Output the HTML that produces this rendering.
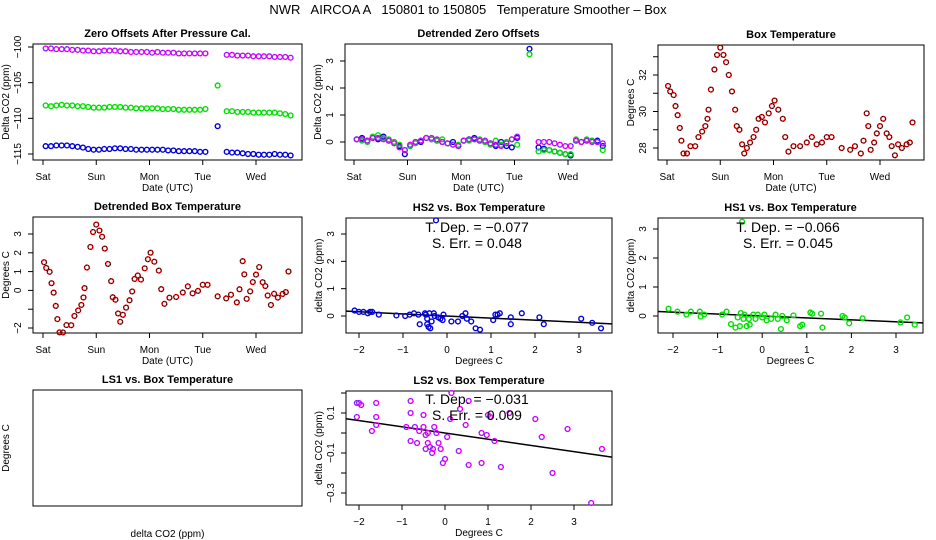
<!DOCTYPE html>
<html><head><meta charset="utf-8"><style>
body{margin:0;background:#fff;}
svg{display:block;font-family:"Liberation Sans",sans-serif;}
.ttl{font-weight:bold;font-size:11px;}
.tk{font-size:10px;}
</style></head><body>
<svg id="c" width="936" height="540" viewBox="0 0 936 540" xmlns="http://www.w3.org/2000/svg">
<rect width="936" height="540" fill="#fff"/>
<text x="468" y="14" font-size="13" text-anchor="middle" xml:space="preserve">NWR   AIRCOA A   150801 to 150805   Temperature Smoother – Box</text>
</svg>
<script>
// ---- data ----
const dayLabels = ["Sat","Sun","Mon","Tue","Wed"];
const tz = [0.05,0.15,0.25,0.35,0.45,0.55,0.65,0.75,0.85,0.95,1.05,1.15,1.25,1.35,1.45,1.55,1.65,1.75,1.85,1.95,2.05,2.15,2.25,2.35,2.45,2.55,2.65,2.75,2.85,2.95,3.05,3.28,3.45,3.55,3.65,3.75,3.85,3.95,4.05,4.15,4.25,4.35,4.45,4.55,4.65];
const rawLS2 = [-100.2,-100.2,-100.3,-100.3,-100.3,-100.4,-100.4,-100.5,-100.5,-100.6,-100.6,-100.5,-100.5,-100.5,-100.6,-100.6,-100.7,-100.7,-100.7,-100.7,-100.8,-100.7,-100.8,-100.8,-100.8,-100.9,-100.9,-100.9,-100.9,-100.9,-100.9,null,-101.1,-101.1,-101.2,-101.2,-101.2,-101.3,-101.3,-101.3,-101.3,-101.4,-101.4,-101.4,-101.5];
const rawHS1 = [-108.2,-108.3,-108.2,-108.1,-108.2,-108.2,-108.3,-108.3,-108.4,-108.5,-108.5,-108.5,-108.4,-108.4,-108.4,-108.5,-108.5,-108.6,-108.6,-108.6,-108.6,-108.6,-108.7,-108.7,-108.7,-108.8,-108.8,-108.8,-108.8,-108.8,-108.7,-105.4,-109.0,-109.0,-109.1,-109.1,-109.1,-109.2,-109.2,-109.2,-109.2,-109.2,-109.3,-109.4,-109.6];
const rawHS2 = [-113.9,-113.9,-113.8,-113.8,-113.8,-113.9,-114.0,-114.1,-114.3,-114.4,-114.4,-114.3,-114.3,-114.2,-114.2,-114.3,-114.3,-114.4,-114.4,-114.4,-114.4,-114.4,-114.4,-114.5,-114.5,-114.6,-114.6,-114.6,-114.6,-114.7,-114.7,-111.1,-114.7,-114.8,-114.8,-114.9,-115.0,-115.0,-115.1,-115.1,-115.1,-115.0,-115.1,-115.1,-115.2];
const detLS2 = [0.1,0.1,0.05,0.15,0.15,0.1,0.05,-0.05,-0.2,-0.3,-0.1,0.0,0.05,0.15,0.15,0.1,0.0,-0.05,-0.1,-0.15,0.05,0.1,0.1,0.05,0.05,-0.05,-0.1,-0.15,-0.05,0.1,0.2,null,0.0,0.0,0.0,-0.05,-0.1,-0.15,-0.15,0.05,0.0,0.05,0.0,0.0,-0.05];
const detHS1 = [0.1,0.05,0.0,0.2,0.25,0.15,0.1,0.0,-0.1,-0.3,-0.15,-0.05,0.05,0.15,0.1,0.05,0.1,-0.05,-0.1,-0.1,0.05,0.05,0.1,0.1,0.0,-0.1,0.05,-0.1,0.0,0.1,-0.1,3.25,-0.35,-0.3,-0.3,-0.35,-0.4,-0.45,-0.45,0.1,0.0,0.1,0.05,0.0,-0.3];
const detHS2 = [0.1,0.15,0.05,0.15,0.1,0.2,0.05,0.0,-0.15,-0.45,-0.15,0.0,0.0,0.15,0.1,0.05,0.0,-0.05,0.0,-0.15,0.05,0.1,0.15,0.05,0.0,-0.05,-0.15,0.0,-0.15,-0.2,0.15,3.45,-0.2,-0.25,-0.3,-0.35,-0.4,-0.45,-0.5,0.05,0.0,0.05,0.05,0.05,-0.15];
const tt = [0.02,0.06,0.125,0.16,0.2,0.24,0.27,0.31,0.375,0.44,0.53,0.59,0.66,0.72,0.76,0.78,0.825,0.89,0.94,1.0,1.06,1.11,1.16,1.22,1.28,1.31,1.36,1.41,1.45,1.5,1.56,1.625,1.675,1.72,1.78,1.84,1.91,1.97,2.02,2.09,2.175,2.22,2.28,2.375,2.5,2.625,2.72,2.81,2.91,3.0,3.09,3.28,3.44,3.53,3.64,3.69,3.75,3.78,3.825,3.89,3.94,4.0,4.06,4.125,4.175,4.22,4.28,4.34,4.41,4.5,4.56,4.61];
const boxT = [31.4,31.1,30.9,30.3,29.8,29.1,28.4,27.7,27.7,28.1,28.1,28.6,28.9,29.2,29.6,30.1,31.2,32.3,33.1,33.5,33.1,32.7,32.0,31.1,30.1,29.2,29.0,28.2,27.7,28.0,28.3,28.6,29.0,29.6,29.7,29.4,29.9,30.3,30.6,30.1,29.6,28.6,27.8,28.1,28.1,28.3,28.6,28.2,28.3,28.6,28.6,28.0,27.9,28.1,27.7,28.4,29.9,29.2,27.9,28.3,28.8,29.2,29.6,28.8,28.6,28.1,27.6,28.2,28.0,28.2,28.3,29.4];
const trendT = [0,1,2,3,4.7];
const trendV = [29.9,30.0,28.6,28.3,28.4];
const hs2X = [-2.1,-2.0,-1.9,-1.8,-1.75,-1.7,-1.55,-1.15,-0.95,-0.85,-0.75,-0.65,-0.62,-0.5,-0.48,-0.45,-0.45,-0.42,-0.4,-0.38,-0.35,-0.3,-0.28,-0.25,-0.2,-0.15,-0.1,-0.08,0.1,0.25,0.35,0.42,0.45,0.55,0.65,0.75,1.05,1.1,1.15,1.2,1.45,1.45,1.7,2.1,2.2,3.05,3.3,3.5];
const hs2Y = [0.2,0.15,0.15,0.1,0.15,0.15,0.05,0.02,0.0,0.05,0.1,0.05,-0.3,0.1,0.05,-0.1,-0.3,-0.4,0.1,-0.45,-0.2,0.1,0.0,3.5,-0.05,-0.1,-0.15,0.05,-0.2,-0.2,0.0,0.1,-0.1,-0.2,-0.45,-0.5,-0.15,0.05,0.05,0.1,-0.05,-0.3,0.1,-0.05,-0.3,-0.1,-0.25,-0.45];
const hs1X = [-2.1,-1.9,-1.7,-1.6,-1.4,-1.38,-1.3,-0.9,-0.8,-0.7,-0.6,-0.55,-0.5,-0.48,-0.45,-0.42,-0.4,-0.35,-0.3,-0.28,-0.2,-0.15,-0.1,0.0,0.05,0.1,0.2,0.3,0.35,0.42,0.45,0.55,0.7,0.85,0.9,1.08,1.12,1.32,1.35,1.8,1.85,1.95,2.25,3.1,3.25,3.42];
const hs1Y = [0.25,0.15,0.05,0.15,0.15,-0.02,0.05,0.05,0.15,-0.28,-0.4,-0.05,-0.35,0.1,3.25,-0.1,0.05,-0.35,-0.1,-0.3,0.05,-0.1,0.05,-0.05,0.05,-0.15,-0.1,0.05,-0.1,-0.45,0.0,-0.15,0.02,-0.35,-0.3,0.12,0.08,0.08,-0.4,0.0,-0.05,-0.25,-0.08,-0.22,-0.05,-0.3];
const ls2X = [-2.05,-2.0,-1.95,-2.05,-1.6,-1.6,-1.6,-1.7,-0.9,-0.8,-0.8,-0.8,-0.65,-0.7,-0.6,-0.5,-0.5,-0.45,-0.45,-0.4,-0.4,-0.35,-0.3,-0.28,-0.25,-0.2,-0.15,-0.1,-0.05,0.0,0.05,0.12,0.15,0.35,0.32,0.48,0.55,0.55,0.85,0.85,0.97,1.0,1.05,1.15,1.3,1.5,2.1,2.25,2.5,2.85,3.4,3.65];
const ls2Y = [0.15,0.15,0.14,0.08,0.15,0.08,0.04,0.01,0.03,0.16,0.1,-0.04,-0.05,0.03,0.01,0.09,0.03,-0.01,-0.08,0.0,-0.05,-0.07,-0.1,-0.08,0.03,0.0,-0.05,-0.08,-0.15,-0.13,-0.02,0.07,0.2,0.12,-0.09,0.04,0.16,-0.16,0.0,-0.15,-0.01,0.09,0.08,-0.04,-0.17,0.1,0.07,-0.02,-0.2,0.02,-0.35,-0.08];
const fitSlope = [-0.077,-0.066,-0.031];
const fitInt = [0.0,0.0,0.0];
const statDep = ["−0.077","−0.066","−0.031"];
const statErr = ["0.048","0.045","0.009"];

// ---- drawing ----
const svg = document.getElementById('c');
const NS = 'http://www.w3.org/2000/svg';
function mk(tag, at, parent){const e=document.createElementNS(NS,tag);for(const k in at)e.setAttribute(k,at[k]);(parent||svg).appendChild(e);return e;}
function lin(v0,p0,v1,p1){return v=>p0+(v-v0)*(p1-p0)/(v1-v0);}
function trend(t){for(let i=0;i<trendT.length-1;i++){if(t<=trendT[i+1]){const f=(t-trendT[i])/(trendT[i+1]-trendT[i]);return trendV[i]+f*(trendV[i+1]-trendV[i]);}}return trendV[trendV.length-1];}

function panel(o){
  const g=mk('g',{});
  
  
  const [L,T,R,B]=o.box;
  const r=mk('rect',{x:L,y:T,width:R-L,height:B-T,fill:'none',stroke:'#000','stroke-width':1},g);
  
  
  const t=mk('text',{x:(L+R)/2,y:T-7,'text-anchor':'middle',class:'ttl'},g);
  t.textContent=o.title;
  
  
  if(o.xt){
    const xs=o.sx;
    const ax=mk('g',{},g);
    
    
    mk('line',{x1:xs(o.xt[0]),x2:xs(o.xt[o.xt.length-1]),y1:B,y2:B,stroke:'#000'},ax);
    o.xt.forEach((v,i)=>{
      mk('line',{x1:xs(v),x2:xs(v),y1:B,y2:B+5,stroke:'#000'},ax);
      const tx=mk('text',{x:xs(v),y:B+20,'text-anchor':'middle',class:'tk'},ax);
      tx.textContent=o.xl[i];
    });
    const ys=o.sy;
    const ay=mk('g',{},g);
    
    
    mk('line',{x1:L,x2:L,y1:ys(o.yt[0]),y2:ys(o.yt[o.yt.length-1]),stroke:'#000'},ay);
    o.yt.forEach((v,i)=>{
      mk('line',{x1:L-5,x2:L,y1:ys(v),y2:ys(v),stroke:'#000'},ay);
      if(o.yl[i]!==''){
        const tx=mk('text',{x:L-12,y:ys(v),'text-anchor':'middle',class:'tk',transform:`rotate(-90 ${L-12} ${ys(v)})`},ay);
        tx.textContent=o.yl[i];
      }
    });
  }
  const xt=mk('text',{x:(L+R)/2,y:B+31,'text-anchor':'middle',class:'tk'},g);
  xt.textContent=o.xlab;
  
  
  const yx=L-24, yy=(T+B)/2;
  const yt=mk('text',{x:yx,y:yy,'text-anchor':'middle',class:'tk',transform:`rotate(-90 ${yx} ${yy})`},g);
  yt.textContent=o.ylab;
  
  
  return g;
}
function pt(g,x,y,kind){
  let c;
  if(kind==='red'){
    c=mk('circle',{cx:x,cy:y,r:2.4,fill:'none',stroke:'#e00000','stroke-width':1.4},g);
    mk('circle',{cx:x,cy:y,r:2.4,fill:'none',stroke:'#000','stroke-width':0.9,'stroke-dasharray':'1 1.5'},g);
  } else if(kind==='mag'){
    c=mk('circle',{cx:x,cy:y,r:2.4,fill:'none',stroke:'#ff00ff','stroke-width':1.4},g);
    mk('circle',{cx:x,cy:y,r:2.4,fill:'none',stroke:'#3030ff','stroke-width':0.9,'stroke-dasharray':'1 1.5'},g);
  } else {
    c=mk('circle',{cx:x,cy:y,r:2.4,fill:'none',stroke:kind,'stroke-width':1.4},g);
  }
  
  
}
const dayTicks=[0,1,2,3,4];
// P1
(function(){
  const o={name:'zero-offsets-panel',box:[33,44,302,160],sx:lin(0,43,4,256),sy:lin(-100,47,-115,154),xt:dayTicks,xl:dayLabels,yt:[-115,-110,-105,-100],yl:['−115','−110','−105','−100'],title:'Zero Offsets After Pressure Cal.',xlab:'Date (UTC)',ylab:'Delta CO2 (ppm)'};
  const g=panel(o);
  tz.forEach((t,i)=>{
    if(rawLS2[i]!==null)pt(g,o.sx(t),o.sy(rawLS2[i]),'mag');
    pt(g,o.sx(t),o.sy(rawHS1[i]),'#00e000');
    pt(g,o.sx(t),o.sy(rawHS2[i]),'#0000e0');
  });
})();
// P2
(function(){
  const o={name:'detrended-zero-offsets-panel',box:[345,44,612,160],sx:lin(0,354,4,568),sy:lin(0,142,3,61),xt:dayTicks,xl:dayLabels,yt:[0,1,2,3],yl:['0','1','2','3'],title:'Detrended Zero Offsets',xlab:'Date (UTC)',ylab:'Delta CO2 (ppm)'};
  const g=panel(o);
  tz.forEach((t,i)=>{
    pt(g,o.sx(t),o.sy(detHS2[i]),'#0000e0');
    pt(g,o.sx(t),o.sy(detHS1[i]),'#00e000');
    if(detLS2[i]!==null)pt(g,o.sx(t),o.sy(detLS2[i]),'mag');
  });
})();
// P3
(function(){
  const o={name:'box-temperature-panel',box:[658,45,924,160],sx:lin(0,667,4,880),sy:lin(28,148,32,75),xt:dayTicks,xl:dayLabels,yt:[28,29,30,31,32,33],yl:['28','','30','','32',''],title:'Box Temperature',xlab:'Date (UTC)',ylab:'Degrees C'};
  const g=panel(o);
  tt.forEach((t,i)=>pt(g,o.sx(t),o.sy(boxT[i]),'red'));
})();
// P4
(function(){
  const o={name:'detrended-box-temperature-panel',box:[33,217,302,333],sx:lin(0,43,4,256),sy:lin(3,234,-2,328),xt:dayTicks,xl:dayLabels,yt:[-2,-1,0,1,2,3],yl:['−2','','0','1','2','3'],title:'Detrended Box Temperature',xlab:'Date (UTC)',ylab:'Degrees C'};
  const g=panel(o);
  tt.forEach((t,i)=>pt(g,o.sx(t),o.sy(boxT[i]-trend(t)),'red'));
})();
function scatter(o,X,Y,kind,k,sx,sy){
  const g=panel(o);
  const [L,T,R,B]=o.box;
  const cp=mk('clipPath',{id:'cp'+k},g);mk('rect',{x:L,y:T,width:R-L,height:B-T},cp);
  const x0=o.sx.inv(L), x1=o.sx.inv(R);
  const ln=mk('line',{x1:L,x2:R,y1:o.sy(fitInt[k]+fitSlope[k]*x0),y2:o.sy(fitInt[k]+fitSlope[k]*x1),stroke:'#000','stroke-width':1.5,'clip-path':`url(#cp${k})`},g);
  
  
  X.forEach((x,i)=>pt(g,o.sx(x),o.sy(Y[i]),kind));
  const a=mk('text',{x:sx,y:sy,'text-anchor':'middle','font-size':'14'},g);
  a.setAttribute('xml:space','preserve');
  a.textContent='T. Dep. =  '+statDep[k];
  
  
  const b=mk('text',{x:sx,y:sy+16,'text-anchor':'middle','font-size':'14'},g);
  b.textContent='S. Err. =  '+statErr[k];
  
  
}
function linI(v0,p0,v1,p1){const f=lin(v0,p0,v1,p1);f.inv=p=>v0+(p-p0)*(v1-v0)/(p1-p0);return f;}
const dx=[-2,-1,0,1,2,3], dxl=['−2','−1','0','1','2','3'];
scatter({name:'hs2-vs-box-temp-panel',box:[346,218,612,333],sx:linI(-2,359,3,579),sy:lin(0,316,3,234),xt:dx,xl:dxl,yt:[0,1,2,3],yl:['0','1','2','3'],title:'HS2 vs. Box Temperature',xlab:'Degrees C',ylab:'delta CO2 (ppm)'},hs2X,hs2Y,'#0000e0',0,477,232);
scatter({name:'hs1-vs-box-temp-panel',box:[658,218,923,333],sx:linI(-2,673,3,896),sy:lin(0,316,3,229),xt:dx,xl:dxl,yt:[0,1,2,3],yl:['0','1','2','3'],title:'HS1 vs. Box Temperature',xlab:'Degrees C',ylab:'delta CO2 (ppm)'},hs1X,hs1Y,'#00e000',1,788,232);
scatter({name:'ls2-vs-box-temp-panel',box:[346,391,612,505],sx:linI(-2,359,3,574),sy:lin(0.1,413,-0.3,493),xt:dx,xl:dxl,yt:[-0.3,-0.2,-0.1,0,0.1,0.2],yl:['−0.3','','−0.1','','0.1',''],title:'LS2 vs. Box Temperature',xlab:'Degrees C',ylab:'delta CO2 (ppm)'},ls2X,ls2Y,'mag',2,477,404);
// P8 empty
panel({name:'ls1-vs-box-temp-panel',box:[33,390,302,506],title:'LS1 vs. Box Temperature',xlab:'delta CO2 (ppm)',ylab:'Degrees C'});
</script>
</body></html>
